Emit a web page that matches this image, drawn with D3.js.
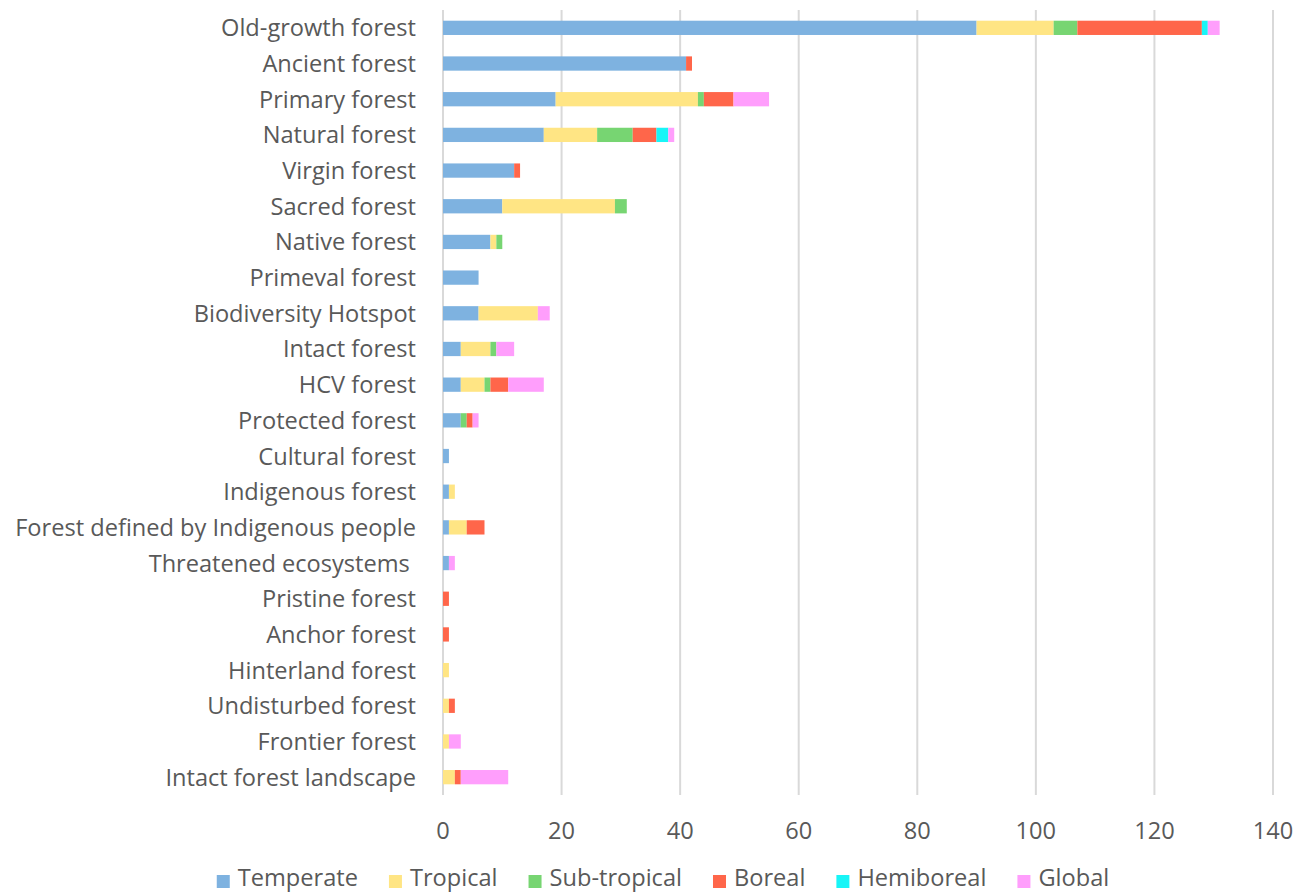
<!DOCTYPE html>
<html><head><meta charset="utf-8">
<script src="https://cdn.jsdelivr.net/npm/d3@7"></script>
<style>body{margin:0;background:#fff;} text{font-family:"Open Sans", Lato, sans-serif;}</style>
</head><body>
<svg id="c" width="1296" height="895"></svg>
<script>
const categories = ["Old-growth forest","Ancient forest","Primary forest","Natural forest","Virgin forest","Sacred forest","Native forest","Primeval forest","Biodiversity Hotspot","Intact forest","HCV forest","Protected forest","Cultural forest","Indigenous forest","Forest defined by Indigenous people","Threatened ecosystems ","Pristine forest","Anchor forest","Hinterland forest","Undisturbed forest","Frontier forest","Intact forest landscape"];
const seriesNames = ["Temperate","Tropical","Sub-tropical","Boreal","Hemiboreal","Global"];
const temperate   = [90,41,19,17,12,10,8,6,6,3,3,3,1,1,1,1,0,0,0,0,0,0];
const tropical    = [13,0,24,9,0,19,1,0,10,5,4,0,0,1,3,0,0,0,1,1,1,2];
const subtropical = [4,0,1,6,0,2,1,0,0,1,1,1,0,0,0,0,0,0,0,0,0,0];
const boreal      = [21,1,5,4,1,0,0,0,0,0,3,1,0,0,3,0,1,1,0,1,0,1];
const hemiboreal  = [1,0,0,2,0,0,0,0,0,0,0,0,0,0,0,0,0,0,0,0,0,0];
const globalVals  = [2,0,6,1,0,0,0,0,2,3,6,1,0,0,0,1,0,0,0,0,2,8];
const xTicks = [0,20,40,60,80,100,120,140];
const colors = ["#7EB2E0","#FFE584","#77D572","#FF664A","#18F5F7","#FF9EFC"];

const svg = d3.select("#c");
const mLeft = 443, mRight = 1273, mTop = 10, mBottom = 795;
const x = d3.scaleLinear().domain([0,140]).range([mLeft,mRight]);
const y = d3.scaleBand().domain(categories).range([mTop,mBottom]).paddingInner(0.6).paddingOuter(0.3);

svg.append("g").selectAll("line").data(xTicks).join("line")
  .attr("x1",d=>x(d)).attr("x2",d=>x(d)).attr("y1",mTop).attr("y2",mBottom)
  .attr("stroke","#d9d9d9").attr("stroke-width",2);

const rows = categories.map((c,i)=>({cat:c, Temperate:temperate[i], Tropical:tropical[i], "Sub-tropical":subtropical[i], Boreal:boreal[i], Hemiboreal:hemiboreal[i], Global:globalVals[i]}));
const stack = d3.stack().keys(seriesNames)(rows);
const g = svg.append("g");
stack.forEach((s,si)=>{
  g.append("g").attr("fill",colors[si]).selectAll("rect").data(s.filter(d=>d[1]>d[0])).join("rect")
    .attr("x",d=>x(d[0])).attr("width",d=>x(d[1])-x(d[0]))
    .attr("y",d=>y(d.data.cat)).attr("height",y.bandwidth());
});

const fs = "23.6px";
svg.append("g").selectAll("text").data(categories).join("text")
  .attr("x",416).attr("y",d=>y(d)+y.bandwidth()/2).attr("dy","0.36em")
  .attr("text-anchor","end").attr("fill","#595959").style("font-size",fs)
  .style("white-space","pre").attr("xml:space","preserve").text(d=>d);

svg.append("g").selectAll("text").data(xTicks).join("text")
  .attr("x",d=>x(d)).attr("y",839).attr("text-anchor","middle")
  .attr("fill","#595959").style("font-size",fs).text(d=>d);

const lg = svg.append("g");
let items = [];
seriesNames.forEach((n,i)=>{
  const it = lg.append("g");
  it.append("rect").attr("x",0).attr("y",-11).attr("width",13).attr("height",13).attr("fill",colors[i]);
  const t = it.append("text").attr("x",21).attr("y",0).attr("fill","#595959").style("font-size",fs).text(n);
  const w = 21 + t.node().getComputedTextLength();
  items.push({it,w});
});
const gap = 31;
const total = d3.sum(items,d=>d.w) + gap*(items.length-1);
let pos = 663 - total/2;
items.forEach(d=>{ d.it.attr("transform",`translate(${pos},886)`); pos += d.w + gap; });
</script>
</body></html>
